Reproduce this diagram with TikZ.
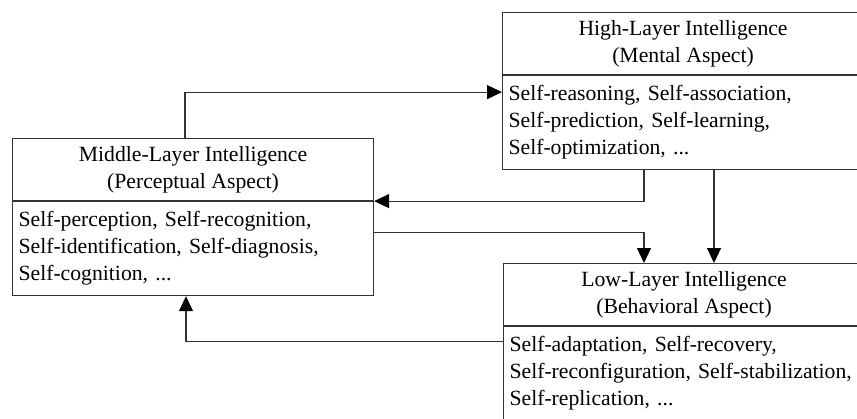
\documentclass[tikz,border=0pt]{standalone}
\usepackage{fontspec}
\setmainfont{Liberation Serif}
\usetikzlibrary{arrows.meta}
\begin{document}
\begin{tikzpicture}[x=1pt,y=-1pt,
  line/.style={draw=black!80,line width=1.1pt},
  headbox/.style={line,anchor=north west,minimum width=361pt,minimum height=62pt,
    inner sep=0pt,align=center,font=\fontsize{21.7}{27}\selectfont},
  bodybox/.style={line,anchor=north west,minimum width=361pt,minimum height=94pt,
    text width=349pt,inner xsep=6pt,inner ysep=0pt,align=left,
    font=\fontsize{21.7}{27}\selectfont},
  arr/.style={line,-{Triangle[length=15pt,width=14pt,fill=black,color=black]}}]
\useasboundingbox (0,0) rectangle (857,418);
\clip (0,0) rectangle (857,418);

% high layer
\node[headbox] (hT) at (502,12) {High-Layer Intelligence\\(Mental Aspect)};
\node[bodybox] (hB) at (hT.south west) {Self-reasoning, Self-association,\\Self-prediction, Self-learning,\\Self-optimization, ...};

% middle layer
\node[headbox] (mT) at (12,138) {Middle-Layer Intelligence\\(Perceptual Aspect)};
\node[bodybox] (mB) at (mT.south west) {Self-perception, Self-recognition,\\Self-identification, Self-diagnosis,\\Self-cognition, ...};

% low layer
\node[headbox] (lT) at (503,263) {Low-Layer Intelligence\\(Behavioral Aspect)};
\node[bodybox] (lB) at (lT.south west) {Self-adaptation, Self-recovery,\\Self-reconfiguration, Self-stabilization,\\Self-replication, ...};

% connectors
\draw[arr] ([xshift=173pt]mT.north west) |- ([yshift=-17pt]hB.north west);
\draw[arr] ([xshift=142pt]hB.south west) |- (mT.south east);
\draw[arr] ([xshift=212pt]hB.south west) -- ([xshift=212pt]hB.south west |- lT.north);
\draw[arr] ([yshift=-31pt]mB.north east) -| ([xshift=141pt]lT.north west);
\draw[arr] ([yshift=-15pt]lB.north west) -| ([xshift=174pt]mB.south west);
\end{tikzpicture}
\end{document}
